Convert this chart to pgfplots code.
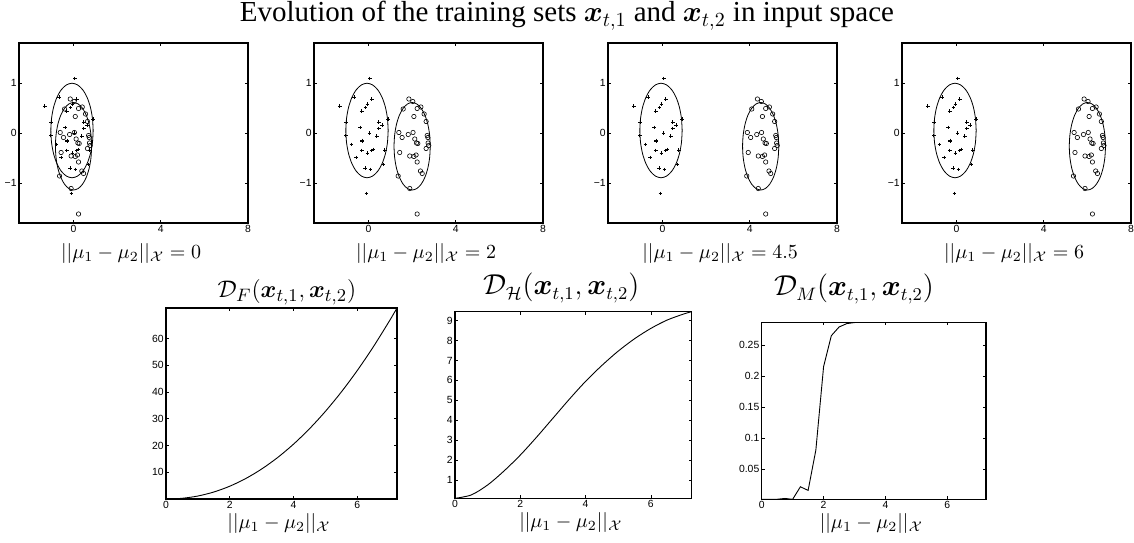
\documentclass[border=0pt]{standalone}
\usepackage[no-math]{fontspec}
\setmainfont{Liberation Serif}
\newfontfamily\ticksf{Liberation Sans}
\usepackage{amsmath,bm}
\usepackage{pgfplots}
\usepackage{pgfplotstable}
\pgfplotsset{compat=1.18}

\pgfplotstableread{
x y
0.06 1.09
-1.32 0.54
-0.66 0.72
0.15 0.68
-0.05 0.58
-0.14 0.51
-0.31 0.44
-1.03 0.22
0.90 0.28
0.47 0.22
0.62 0.16
-0.38 0.11
0.47 0.09
0.05 0.00
-1.04 -0.05
0.38 -0.06
-0.30 -0.15
-0.29 -0.17
-0.78 -0.23
-0.31 -0.35
0.21 -0.33
0.14 -0.35
-0.05 -0.40
0.75 -0.34
-0.57 -0.49
0.69 -0.63
-0.16 -0.70
0.09 -0.73
-0.10 -1.21
}\plusdata

\pgfplotstableread{
x y
-0.15 0.68
0.03 0.63
-0.41 0.48
0.23 0.49
0.40 0.52
0.08 0.33
0.55 0.38
0.64 0.23
-0.61 0.01
0.04 0.01
-0.46 -0.09
-0.18 -0.03
0.12 -0.12
0.20 -0.20
0.26 -0.21
0.69 -0.05
0.72 -0.09
0.73 -0.20
0.76 -0.25
0.64 -0.31
-0.57 -0.39
-0.11 -0.46
0.08 -0.47
0.18 -0.44
0.23 -0.58
0.38 -0.76
0.46 -0.81
-0.64 -0.86
-0.11 -1.11
0.23 -1.62
}\circdata

\pgfplotstableread{
c s
1 0
0.9659 0.2588
0.8660 0.5
0.7071 0.7071
0.5 0.8660
0.2588 0.9659
0 1
-0.2588 0.9659
-0.5 0.8660
-0.7071 0.7071
-0.8660 0.5
-0.9659 0.2588
-1 0
-0.9659 -0.2588
-0.8660 -0.5
-0.7071 -0.7071
-0.5 -0.8660
-0.2588 -0.9659
0 -1
0.2588 -0.9659
0.5 -0.8660
0.7071 -0.7071
0.8660 -0.5
0.9659 -0.2588
1 0
}\unitcirc

\pgfplotstableread{
x y
0 0
0.5 0.260
1 1.115
1.5 2.613
2 4.780
2.5 7.637
3 11.20
3.5 15.48
4 20.49
4.5 26.24
5 32.74
5.5 40.00
6 48.01
6.5 56.80
7 66.37
7.25 71.44
}\Fdata

\pgfplotstableread{
x y
0 0.08
0.5 0.25
1 0.75
1.5 1.45
2 2.25
2.5 3.15
3 4.10
3.5 5.05
4 5.95
4.5 6.75
5 7.47
5.5 8.09
6 8.61
6.5 9.03
7 9.33
7.25 9.45
}\Hdata

\pgfplotstableread{
x y
0 0.0011
0.25 0.0011
0.5 0.0012
0.75 0.0025
1.0 0.0011
1.25 0.0213
1.5 0.0155
1.75 0.0805
2.0 0.215
2.25 0.265
2.5 0.279
2.75 0.2845
3.0 0.2862
3.25 0.2866
7.25 0.2866
}\Mdata

\pgfplotsset{
  mstyle/.style={
    scale only axis,
    anchor=south west,
    axis line style={line width=0.55pt},
    tick align=inside,
    tick pos=both,
    major tick length=1.5pt,
    tick style={line width=0.3pt, black},
    tick label style={font=\ticksf\fontsize{5.2}{6}\selectfont},
    xticklabel style={inner sep=1pt},
    yticklabel style={inner sep=1pt},
    label style={font=\fontsize{11.3}{14}\selectfont},
    every axis x label/.style={at={(axis description cs:0.5,0)}, anchor=center, xshift=-1.2pt},
    every axis title/.style={at={(axis description cs:0.5,1)}, anchor=center, font=\fontsize{13.5}{16}\selectfont},
  },
  topstyle/.style={
    mstyle,
    width=114.5pt, height=90pt,
    xmin=-2.5, xmax=8, ymin=-1.8, ymax=1.8,
    xtick={0,4,8}, xticklabels={0,4,8},
    ytick={-1,0,1}, yticklabels={−1,0,1},
    xlabel style={yshift=-15pt},
  },
  botstyle/.style={
    mstyle,
    xmin=0, xmax=7.25,
    xtick={0,2,4,6}, xticklabels={0,2,4,6},
    xlabel style={yshift=-12pt},
  },
}

\newcommand{\toppanel}[3]{%
  \begin{axis}[topstyle, at={(#1,159.5pt)}, xlabel={$||\mu_1-\mu_2||_{\mathcal{X}}=#3$}]
    \addplot[only marks, mark=+, mark size=0.9pt, line width=0.45pt, black] table[x=x,y=y] {\plusdata};
    \addplot[only marks, mark=o, mark size=1.1pt, line width=0.3pt, black] table[x expr=\thisrow{x}+#2, y=y] {\circdata};
    \addplot[smooth, line width=0.4pt, black] table[x expr=-0.07+0.97*\thisrow{c}, y expr=0.05+0.945*\thisrow{s}] {\unitcirc};
    \addplot[smooth, line width=0.4pt, black] table[x expr=#2+0.83*\thisrow{c}, y expr=-0.265+0.875*\thisrow{s}] {\unitcirc};
  \end{axis}}

\begin{document}
\begin{tikzpicture}
\useasboundingbox (0,0) rectangle (567pt,271pt);
\node[font=\fontsize{14.5}{17}\selectfont, anchor=base, inner sep=0pt] at (283.5pt,260pt) {Evolution of the training sets $\bm{x}_{t,1}$ and $\bm{x}_{t,2}$ in input space};

\toppanel{9.5pt}{0}{0}
\toppanel{157pt}{2}{2}
\toppanel{304pt}{4.5}{4.5}
\toppanel{451pt}{6}{6}

\begin{axis}[botstyle, at={(83pt,21.5pt)}, width=115.5pt, height=95.5pt,
  ymin=0, ymax=71.44, ytick={10,20,30,40,50,60}, yticklabels={10,20,30,40,50,60},
  xlabel={$||\mu_1-\mu_2||_{\mathcal{X}}$},
  title={$\mathcal{D}_F(\bm{x}_{t,1},\bm{x}_{t,2})$}, title style={yshift=8pt, xshift=2.7pt, font=\fontsize{12.2}{14}\selectfont}]
  \addplot[smooth, line width=0.45pt, black] table[x=x,y=y] {\Fdata};
\end{axis}

\begin{axis}[botstyle, at={(227.5pt,21.85pt)}, width=118.3pt, height=93.3pt,
  ymin=0.08, ymax=9.45, ytick={1,2,3,4,5,6,7,8,9}, yticklabels={1,2,3,4,5,6,7,8,9},
  xlabel={$||\mu_1-\mu_2||_{\mathcal{X}}$},
  title={$\mathcal{D}_{\mathcal{H}}(\bm{x}_{t,1},\bm{x}_{t,2})$}, title style={yshift=11.8pt, xshift=-5.9pt}]
  \addplot[smooth, line width=0.45pt, black] table[x=x,y=y] {\Hdata};
\end{axis}

\begin{axis}[botstyle, at={(380.85pt,21.35pt)}, width=112.15pt, height=88.5pt,
  ymin=0.0011, ymax=0.2866, ytick={0.05,0.1,0.15,0.2,0.25}, yticklabels={0.05,0.1,0.15,0.2,0.25},
  xlabel={$||\mu_1-\mu_2||_{\mathcal{X}}$},
  title={$\mathcal{D}_M(\bm{x}_{t,1},\bm{x}_{t,2})$}, title style={yshift=16.7pt, xshift=-9.9pt}]
  \addplot[line width=0.45pt, black] table[x=x,y=y] {\Mdata};
\end{axis}
\end{tikzpicture}
\end{document}
